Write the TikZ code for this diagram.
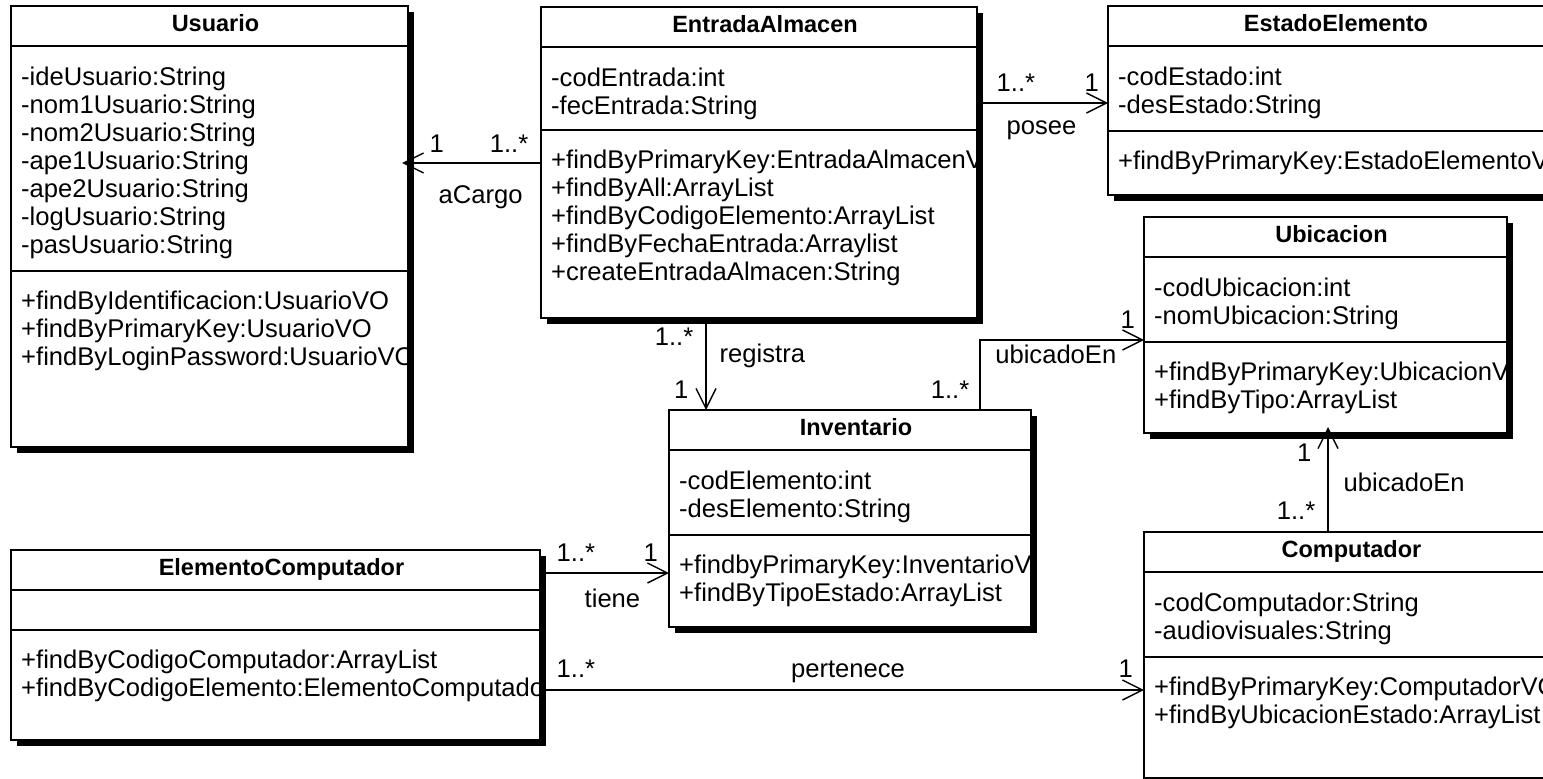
\documentclass[tikz,border=0pt]{standalone}
\usepackage{fontspec}
\setmainfont{Liberation Sans}
\usetikzlibrary{arrows.meta,shadows}

% one UML class: name, top left corner, width, height, second rule, title, attributes, operations
\newcommand{\umlclass}[8]{%
  \node[classbox, minimum width=#3pt, minimum height=#4pt] (#1) at (#2) {};
  \node[classtitle] at ([xshift=6pt,yshift=-25pt]#1.north) {#6};
  \draw[rule] ([yshift=-40pt]#1.north west) -- ([yshift=-40pt]#1.north east);
  \draw[rule] ([yshift=-#5pt]#1.north west) -- ([yshift=-#5pt]#1.north east);
  \begin{scope}
    \clip (#1.north west) rectangle (#1.south east);
    \foreach \m [count=\i from 0] in {#7}
      \node[member] at ([xshift=10pt,yshift={-79-28*\i}]#1.north west) {\m};
    \foreach \m [count=\i from 0] in {#8}
      \node[member] at ([xshift=10pt,yshift={-#5-38.5-28*\i}]#1.north west) {\m};
  \end{scope}
}

\begin{document}
\begin{tikzpicture}[
    x=1pt, y=-1pt,
    classbox/.style={draw, line width=1.6pt, fill=white, anchor=north west, inner sep=0, outer sep=0,
      drop shadow={shadow xshift=6pt, shadow yshift=-6pt, opacity=1, fill=black}},
    classtitle/.style={anchor=base, inner sep=0, font=\fontsize{23.5}{28}\selectfont\bfseries},
    member/.style={anchor=base west, inner sep=0, font=\fontsize{25.6}{28}\selectfont},
    mult/.style={inner sep=0, font=\fontsize{25.6}{28}\selectfont},
    rule/.style={line width=1.5pt},
    assoc/.style={line width=1.4pt, -{Straight Barb[length=20pt, width=20pt]}}
]
\useasboundingbox (0,0) rectangle (1543,779);
\clip (0,0) rectangle (1543,779);
\fill[white] (0,0) rectangle (1543,779);

% classes
\umlclass{us}{11,6}{397}{441}{265}{Usuario}
  {-ideUsuario:String, -nom1Usuario:String, -nom2Usuario:String, -ape1Usuario:String,
   -ape2Usuario:String, -logUsuario:String, -pasUsuario:String}
  {+findByIdentificacion:UsuarioVO, +findByPrimaryKey:UsuarioVO, +findByLoginPassword:UsuarioVO}
\umlclass{ea}{541,7}{436}{311}{123}{EntradaAlmacen}
  {-codEntrada:int, -fecEntrada:String}
  {+findByPrimaryKey:EntradaAlmacenVO, +findByAll:ArrayList, +findByCodigoElemento:ArrayList,
   +findByFechaEntrada:Arraylist, +createEntradaAlmacen:String}
\umlclass{est}{1108,6}{444}{189}{125}{EstadoElemento}
  {-codEstado:int, -desEstado:String}
  {+findByPrimaryKey:EstadoElementoVO}
\umlclass{ubic}{1144,217}{363}{216}{125}{Ubicacion}
  {-codUbicacion:int, -nomUbicacion:String}
  {+findByPrimaryKey:UbicacionVO, +findByTipo:ArrayList}
\umlclass{inv}{669,410}{362}{217}{125}{Inventario}
  {-codElemento:int, -desElemento:String}
  {+findbyPrimaryKey:InventarioVO, +findByTipoEstado:ArrayList}
\umlclass{ec}{11,550}{529}{190}{80}{ElementoComputador}
  {}
  {+findByCodigoComputador:ArrayList, +findByCodigoElemento:ElementoComputadorVO}
\umlclass{comp}{1144,532}{403}{246}{125}{Computador}
  {-codComputador:String, -audiovisuales:String}
  {+findByPrimaryKey:ComputadorVO, +findByUbicacionEstado:ArrayList}

% where the associations start
\coordinate (cargo) at ([yshift=-156pt]ea.north west);
\coordinate (posee) at ([xshift=5pt,yshift=-96pt]ea.north east);
\coordinate (registra) at ([xshift=165pt,yshift=-6pt]ea.south west);
\coordinate (ubicInv) at ([xshift=311pt]inv.north west);
\coordinate (ubicRow) at ([yshift=-123pt]ubic.north west);
\coordinate (tiene) at ([xshift=2pt,yshift=-23pt]ec.north east);
\coordinate (pertenece) at ([xshift=2pt,yshift=-140pt]ec.north east);
\coordinate (ubicComp) at ([xshift=184pt]comp.north west);

% associations
\draw[assoc, shorten >=-6pt] (cargo) -- (cargo -| us.east)
  node[mult, at start, anchor=base east, xshift=-12pt, yshift=11pt] {1..*}
  node[mult, at start, anchor=base west, xshift=-112pt, yshift=11pt] {1}
  node[mult, at start, anchor=base west, xshift=-103pt, yshift=-40pt] {aCargo};
\draw[assoc] (posee) -- (posee -| est.west)
  node[mult, at start, anchor=base west, xshift=14pt, yshift=12pt] {1..*}
  node[mult, at start, anchor=base west, xshift=102pt, yshift=12pt] {1}
  node[mult, at start, anchor=base west, xshift=24pt, yshift=-31pt] {posee};
\draw[assoc] (registra) -- (registra |- inv.north)
  node[mult, at start, anchor=base east, xshift=-12pt, yshift=-21pt] {1..*}
  node[mult, at start, anchor=base west, xshift=13pt, yshift=-38pt] {registra}
  node[mult, at start, anchor=base east, xshift=-17pt, yshift=-74pt] {1};
\draw[assoc] (ubicInv) |- (ubicRow)
  node[mult, at start, anchor=base east, xshift=-10pt, yshift=12pt] {1..*}
  node[mult, at start, anchor=base east, xshift=137pt, yshift=47pt] {ubicadoEn}
  node[mult, at start, anchor=base west, xshift=140pt, yshift=82pt] {1};
\draw[assoc] (tiene) -- (tiene -| inv.west)
  node[mult, at start, anchor=base west, xshift=14pt, yshift=12pt] {1..*}
  node[mult, at start, anchor=base west, xshift=101pt, yshift=12pt] {1}
  node[mult, at start, anchor=base west, xshift=42pt, yshift=-34pt] {tiene};
\draw[assoc] (pertenece) -- (pertenece -| comp.west)
  node[mult, at start, anchor=base west, xshift=14pt, yshift=13pt] {1..*}
  node[mult, at start, anchor=base, xshift=306pt, yshift=13pt] {pertenece}
  node[mult, at start, anchor=base west, xshift=576pt, yshift=13pt] {1};
\draw[assoc, shorten >=-6pt] (ubicComp) -- (ubicComp |- ubic.south)
  node[mult, at start, anchor=base east, xshift=-12pt, yshift=13pt] {1..*}
  node[mult, at start, anchor=base west, xshift=15pt, yshift=41pt] {ubicadoEn}
  node[mult, at start, anchor=base east, xshift=-16pt, yshift=71pt] {1};
\end{tikzpicture}
\end{document}
